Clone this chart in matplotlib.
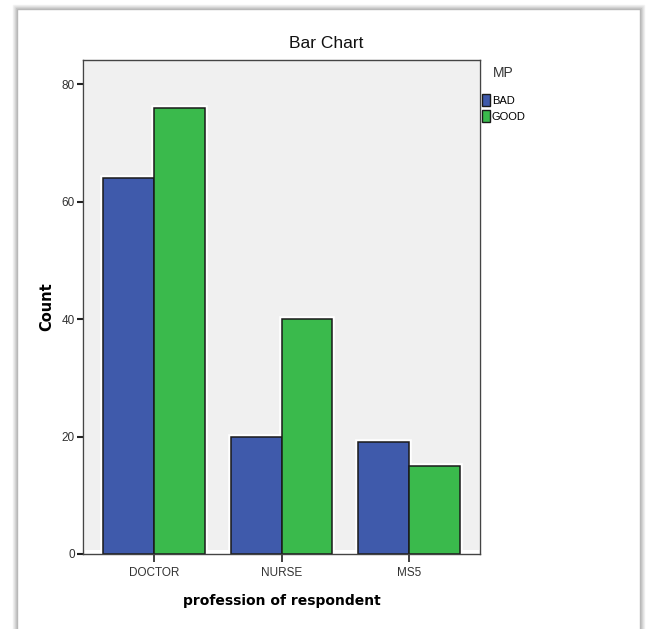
import numpy as np
import matplotlib
matplotlib.use('Agg')
import matplotlib.pyplot as plt
from matplotlib import font_manager
from matplotlib.patches import Rectangle, Patch

# Datos
professions = ['DOCTOR', 'NURSE', 'MS5']
mp_groups = ['BAD', 'GOOD']
bad_counts = [64, 20, 19]
good_counts = [76, 40, 15]
y_ticks = [0, 20, 40, 60, 80]

colors = {'BAD': '#3f5aab', 'GOOD': '#3aba4c'}

installed = {f.name for f in font_manager.fontManager.ttflist}
def pick(*names):
    for n in names:
        if n in installed:
            return n
    return 'DejaVu Sans'

narrow = pick('Liberation Sans Narrow', 'Liberation Sans', 'Arimo')
regular = pick('Liberation Sans', 'Arimo')

W, H = 648, 629
fig = plt.figure(figsize=(W / 100, H / 100), dpi=100)
fig.patch.set_facecolor('white')

# marco tipo "tarjeta" con sombra
for i, a in enumerate([0.05, 0.08, 0.12, 0.2]):
    off = (4 - i)
    fig.patches.append(Rectangle(((17 - off) / W, -0.1), (623 + 2 * off) / W, 1.1 - (9 - off) / H,
                                 transform=fig.transFigure, facecolor='none',
                                 edgecolor=(0, 0, 0, a), lw=1.0, zorder=-3))
fig.patches.append(Rectangle((17 / W, -0.1), 623 / W, 1.1 - 9 / H,
                             transform=fig.transFigure, facecolor='white',
                             edgecolor='#b8b8b8', lw=1.0, zorder=-2))

ax = fig.add_axes([83 / W, 1 - 554 / H, 397 / W, 494 / H])
ax.set_facecolor('white')
ax.add_patch(Rectangle((0.005, 0.008), 0.993, 0.99, transform=ax.transAxes,
                       facecolor='#f0f0f0', edgecolor='none', zorder=0))

x = np.arange(len(professions))
width = 0.4
for vals, grp, sh in [(bad_counts, 'BAD', -width / 2), (good_counts, 'GOOD', width / 2)]:
    # halo blanco alrededor de la barra
    ax.bar(x + sh, vals, width, color=colors[grp], edgecolor='white', linewidth=4, zorder=2)
    ax.bar(x + sh, vals, width, color=colors[grp], edgecolor='#1a1a1a', linewidth=1.1, zorder=3)

ax.set_xlim(-0.557, 2.557)
ax.set_ylim(0, 84.1)
ax.set_xticks(x)
ax.set_xticklabels(professions, fontfamily=narrow, fontsize=8.5, color='#333333')
ax.set_yticks(y_ticks)
ax.set_yticklabels([str(v) for v in y_ticks], fontfamily=narrow, fontsize=8.5, color='#333333')
ax.tick_params(axis='y', length=4, width=1.5, color='#222222', pad=2)
ax.tick_params(axis='x', length=6, width=1.2, color='#222222', pad=3)
for s in ax.spines.values():
    s.set_color('#444444')
    s.set_linewidth(1.0)
    s.set_zorder(4)

ax.set_ylabel('Count', fontsize=10.5, fontweight='bold', fontfamily='DejaVu Sans', labelpad=5)
ax.set_xlabel('profession of respondent', fontsize=10, fontweight='bold',
              fontfamily='DejaVu Sans', labelpad=11)

fig.text(326 / W, 1 - 43 / H, 'Bar Chart', ha='center', va='center',
         fontsize=12.5, fontfamily=regular, color='#111111')

handles = [Patch(facecolor=colors[g], edgecolor='#1a1a1a', linewidth=1) for g in mp_groups]
leg = fig.legend(handles, mp_groups, loc='upper left', bbox_to_anchor=(478 / W, 1 - 62 / H),
                 frameon=False, title='MP', alignment='left',
                 prop={'family': narrow, 'size': 8}, handlelength=0.7, handleheight=1.3,
                 handletextpad=0.15, labelspacing=0.35, borderaxespad=0)
leg.get_title().set_fontfamily(regular)
leg.get_title().set_fontsize(10)
leg.get_title().set_color('#333333')
leg._legend_box.sep = 10
leg.get_title().set_position((10, 0))

fig.savefig('out.png', dpi=100)
